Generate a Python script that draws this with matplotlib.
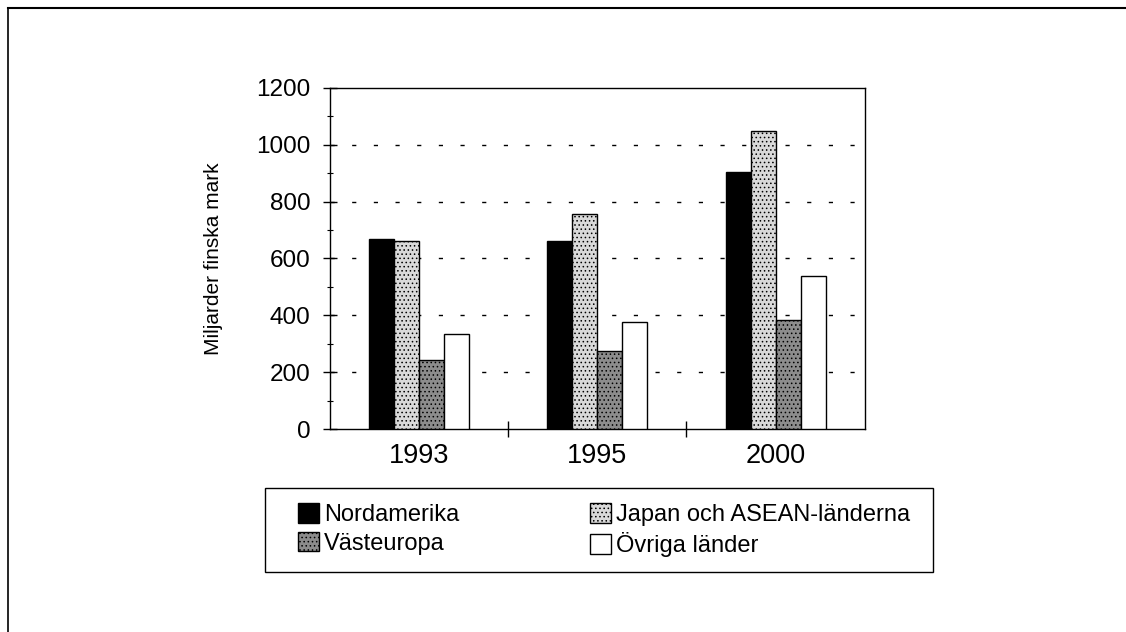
import matplotlib
matplotlib.use("Agg")
import matplotlib.pyplot as plt
import numpy as np
from matplotlib.lines import Line2D
from matplotlib.patches import Patch, Rectangle

plt.rcParams["font.family"] = ["Liberation Sans", "DejaVu Sans"]
plt.rcParams["hatch.linewidth"] = 0.6

# ── Data ─────────────────────────────────────────────────────────────────────
years = ["1993", "1995", "2000"]
nordamerika = [670, 660, 905]
japan_asean = [662, 755, 1047]
vasteuropa = [242, 274, 383]
ovriga = [336, 377, 537]

series_names = ["Nordamerika", "Japan och ASEAN-länderna", "Västeuropa", "Övriga länder"]
series_vals = [nordamerika, japan_asean, vasteuropa, ovriga]
face = ["black", "#d9d9d9", "#8c8c8c", "white"]
hatch = [None, "....", "....", None]

fig = plt.figure(figsize=(11.26, 6.32), dpi=100)
ax = fig.add_axes([0.293, 0.321, 0.475, 0.540])

x = np.arange(len(years))
w = 0.14
offsets = [-1.5 * w, -0.5 * w, 0.5 * w, 1.5 * w]
for vals, off, fc, ht in zip(series_vals, offsets, face, hatch):
    ax.bar(x + off, vals, w, color=fc, edgecolor="black", linewidth=1.0,
           hatch=ht, zorder=3)

ax.set_xlim(-0.5, 2.5)
ax.set_ylim(0, 1200)
ax.set_yticks(np.arange(0, 1201, 200))
ax.set_yticks(np.arange(0, 1201, 100), minor=True)
ax.set_xticks(x)
ax.set_xticklabels(years, fontsize=19.5)
ax.set_xticks([0.5, 1.5], minor=True)
ax.tick_params(axis="x", which="major", length=0, pad=10)
ax.tick_params(axis="x", which="minor", direction="inout", length=11, width=1)
ax.tick_params(axis="y", which="major", direction="inout", length=10, width=1,
               labelsize=17.5, pad=9)
ax.tick_params(axis="y", which="minor", direction="inout", length=5, width=0.8)

for v in range(200, 1200, 200):
    ax.axhline(v, color="black", linewidth=1.0, linestyle=(0, (3, 12.6)), zorder=1)

for sp in ax.spines.values():
    sp.set_linewidth(1.0)

ax.set_ylabel("Miljarder finska mark", fontsize=15, labelpad=24)

# legend: rows Nordamerika / Japan, Västeuropa / Övriga
order = [0, 2, 1, 3]
handles = [Patch(facecolor=face[i], edgecolor="black", hatch=hatch[i], linewidth=1.0)
           for i in order]
labels = [series_names[i] for i in order]
fig.legend(handles, labels, ncol=2, mode="expand",
           bbox_to_anchor=(298 / 1126, 0.095, 612 / 1126, 0.133), loc="center",
           fontsize=17, frameon=False,
           handlelength=0.9, handleheight=0.9, handletextpad=0.2,
           borderpad=0, borderaxespad=0, labelspacing=0.25)
fig.add_artist(Rectangle((265 / 1126, 1 - 572 / 632), 668 / 1126, 84 / 632,
                         fill=False, edgecolor="black", linewidth=1.0,
                         transform=fig.transFigure))

# scanned page border (top and left)
fig.add_artist(Line2D([0.007, 1.0], [0.987, 0.987], color="black", linewidth=1.5,
                      transform=fig.transFigure))
fig.add_artist(Line2D([0.007, 0.007], [0.0, 0.987], color="black", linewidth=1.2,
                      transform=fig.transFigure))

fig.savefig("out.png", dpi=100)
